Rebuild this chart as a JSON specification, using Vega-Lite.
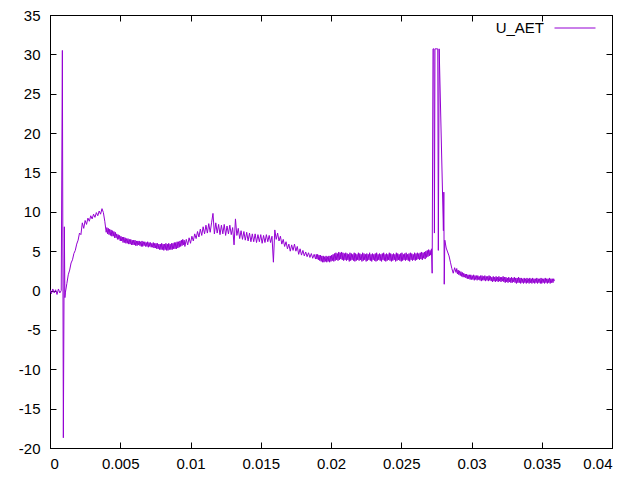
{
"$schema": "https://vega.github.io/schema/vega-lite/v6.json",
"width": 562, "height": 433,
"autosize": {"type": "none"},
"padding": {"left": 50, "top": 15, "right": 28, "bottom": 32},
"background": "white",
"config": {
  "view": {"stroke": "black", "strokeWidth": 1},
  "font": "Liberation Sans",
  "axis": {"grid": false, "domainColor": "black", "domainWidth": 1, "tickColor": "black", "tickWidth": 1, "labelColor": "black", "labelFont": "Liberation Sans", "labelFontSize": 15, "title": null},
  "legend": {"labelFont": "Liberation Sans", "labelFontSize": 15, "labelColor": "black"}
},
"data": {"values": [
{"t":0.0000,"u":0.1},{"t":0.0001,"u":-0.4},{"t":0.0002,"u":0.2},{"t":0.0003,"u":-0.3},{"t":0.0004,"u":0.1},{"t":0.0005,"u":-0.5},{"t":0.0006,"u":0.2},{"t":0.0007,"u":-0.3},{"t":0.0008,"u":0.0},
{"t":0.00088,"u":30.5},{"t":0.00095,"u":-18.7},{"t":0.00102,"u":8.1},{"t":0.00106,"u":-0.9},
{"t":0.0011,"u":-0.2},{"t":0.0012,"u":0.9},{"t":0.0013,"u":2.0},{"t":0.0014,"u":2.6},{"t":0.0015,"u":3.5},{"t":0.0016,"u":3.9},{"t":0.0017,"u":4.7},{"t":0.0018,"u":5.1},{"t":0.0019,"u":5.9},{"t":0.0020,"u":6.4},
{"t":0.0021,"u":7.3},{"t":0.0022,"u":7.1},{"t":0.0023,"u":8.6},{"t":0.0024,"u":7.9},{"t":0.0025,"u":8.9},{"t":0.0026,"u":8.4},{"t":0.0027,"u":9.2},{"t":0.0028,"u":8.8},{"t":0.0029,"u":9.5},{"t":0.0030,"u":9.1},
{"t":0.0031,"u":9.7},{"t":0.0032,"u":9.3},{"t":0.0033,"u":9.9},{"t":0.0034,"u":9.5},{"t":0.0035,"u":10.1},{"t":0.0036,"u":9.7},{"t":0.0037,"u":10.4},{"t":0.0038,"u":9.9},{"t":0.0039,"u":8.8},
{"t":0.00400,"u":7.4},{"t":0.00405,"u":8.0},{"t":0.00410,"u":7.2},{"t":0.00415,"u":7.9},{"t":0.00420,"u":7.1},{"t":0.00425,"u":7.8},{"t":0.00430,"u":7.0},{"t":0.00435,"u":7.7},{"t":0.00440,"u":6.9},{"t":0.00445,"u":7.6},
{"t":0.00450,"u":6.9},{"t":0.00455,"u":7.5},{"t":0.00460,"u":6.7},{"t":0.00465,"u":7.4},{"t":0.00470,"u":6.7},{"t":0.00475,"u":7.2},{"t":0.00480,"u":6.5},{"t":0.00485,"u":7.1},{"t":0.00490,"u":6.5},{"t":0.00495,"u":7.0},
{"t":0.00500,"u":6.3},{"t":0.00505,"u":6.9},{"t":0.00510,"u":6.3},{"t":0.00515,"u":6.8},{"t":0.00520,"u":6.1},{"t":0.00525,"u":6.8},{"t":0.00530,"u":6.1},{"t":0.00535,"u":6.7},{"t":0.00540,"u":6.0},{"t":0.00545,"u":6.6},
{"t":0.00550,"u":6.0},{"t":0.00555,"u":6.6},{"t":0.00560,"u":5.9},{"t":0.00565,"u":6.5},{"t":0.00570,"u":5.9},{"t":0.00575,"u":6.5},{"t":0.00580,"u":5.8},{"t":0.00585,"u":6.4},{"t":0.00590,"u":5.8},{"t":0.00595,"u":6.4},
{"t":0.00600,"u":5.8},{"t":0.00605,"u":6.4},{"t":0.00610,"u":5.7},{"t":0.00615,"u":6.3},{"t":0.00620,"u":5.7},{"t":0.00625,"u":6.3},{"t":0.00630,"u":5.8},{"t":0.00635,"u":6.3},{"t":0.00640,"u":5.7},{"t":0.00645,"u":6.2},
{"t":0.00650,"u":5.6},{"t":0.00655,"u":6.3},{"t":0.00660,"u":5.6},{"t":0.00665,"u":6.2},{"t":0.00670,"u":5.7},{"t":0.00675,"u":6.2},{"t":0.00680,"u":5.6},{"t":0.00685,"u":6.1},{"t":0.00690,"u":5.6},{"t":0.00695,"u":6.2},
{"t":0.00700,"u":5.5},{"t":0.00705,"u":6.1},{"t":0.00710,"u":5.6},{"t":0.00715,"u":6.1},{"t":0.00720,"u":5.5},{"t":0.00725,"u":6.0},{"t":0.00730,"u":5.5},{"t":0.00735,"u":6.1},{"t":0.00740,"u":5.4},{"t":0.00745,"u":6.0},
{"t":0.00750,"u":5.4},{"t":0.00755,"u":6.0},{"t":0.00760,"u":5.3},{"t":0.00765,"u":6.0},{"t":0.00770,"u":5.3},{"t":0.00775,"u":5.9},{"t":0.00780,"u":5.2},{"t":0.00785,"u":5.9},{"t":0.00790,"u":5.2},{"t":0.00795,"u":6.0},
{"t":0.00800,"u":5.2},{"t":0.00805,"u":5.9},{"t":0.00810,"u":5.1},{"t":0.00815,"u":5.9},{"t":0.00820,"u":5.2},{"t":0.00825,"u":6.0},{"t":0.00830,"u":5.1},{"t":0.00835,"u":5.9},{"t":0.00840,"u":5.1},{"t":0.00845,"u":6.0},
{"t":0.00850,"u":5.2},{"t":0.00855,"u":5.9},{"t":0.00860,"u":5.2},{"t":0.00865,"u":6.0},{"t":0.00870,"u":5.2},{"t":0.00875,"u":6.0},{"t":0.00880,"u":5.3},{"t":0.00885,"u":6.1},{"t":0.00890,"u":5.3},{"t":0.00895,"u":6.1},
{"t":0.00900,"u":5.3},{"t":0.00905,"u":6.2},{"t":0.00910,"u":5.4},{"t":0.00915,"u":6.2},{"t":0.00920,"u":5.5},{"t":0.00925,"u":6.3},{"t":0.00930,"u":5.6},{"t":0.00935,"u":6.4},{"t":0.00940,"u":5.7},{"t":0.00945,"u":6.5},
{"t":0.00950,"u":5.8},{"t":0.00955,"u":6.4},{"t":0.0096,"u":5.6},{"t":0.0097,"u":6.5},{"t":0.0098,"u":5.8},{"t":0.0099,"u":6.7},{"t":0.0100,"u":6.0},
{"t":0.0101,"u":6.9},{"t":0.0102,"u":6.3},{"t":0.0103,"u":7.2},{"t":0.0104,"u":6.6},{"t":0.0105,"u":7.5},{"t":0.0106,"u":6.8},{"t":0.0107,"u":7.8},{"t":0.0108,"u":7.0},{"t":0.0109,"u":8.1},{"t":0.0110,"u":7.2},
{"t":0.0111,"u":8.3},{"t":0.0112,"u":7.3},{"t":0.0113,"u":8.5},{"t":0.0114,"u":7.4},{"t":0.0115,"u":8.6},{"t":0.0116,"u":9.8},{"t":0.0117,"u":7.2},{"t":0.0118,"u":8.6},{"t":0.0119,"u":7.3},{"t":0.0120,"u":8.4},
{"t":0.0121,"u":7.1},{"t":0.0122,"u":8.3},{"t":0.0123,"u":7.2},{"t":0.0124,"u":8.4},{"t":0.0125,"u":7.0},{"t":0.0126,"u":8.2},{"t":0.0127,"u":7.2},{"t":0.0128,"u":8.3},{"t":0.0129,"u":7.1},{"t":0.0130,"u":8.0},
{"t":0.0131,"u":5.8},{"t":0.0132,"u":9.1},{"t":0.0133,"u":7.0},{"t":0.0134,"u":7.9},{"t":0.0135,"u":6.6},{"t":0.0136,"u":7.6},{"t":0.0137,"u":6.5},{"t":0.0138,"u":7.5},{"t":0.0139,"u":6.4},{"t":0.0140,"u":7.4},
{"t":0.0141,"u":6.3},{"t":0.0142,"u":7.3},{"t":0.0143,"u":6.2},{"t":0.0144,"u":7.2},{"t":0.0145,"u":6.2},{"t":0.0146,"u":7.2},{"t":0.0147,"u":6.1},{"t":0.0148,"u":7.1},{"t":0.0149,"u":6.2},{"t":0.0150,"u":7.1},
{"t":0.0151,"u":6.0},{"t":0.0152,"u":7.0},{"t":0.0153,"u":6.1},{"t":0.0154,"u":7.1},{"t":0.0155,"u":6.2},{"t":0.0156,"u":7.0},{"t":0.0157,"u":6.1},{"t":0.0158,"u":6.9},{"t":0.0159,"u":3.6},{"t":0.0160,"u":7.7},
{"t":0.0161,"u":6.5},{"t":0.0162,"u":7.3},{"t":0.0163,"u":6.3},{"t":0.0164,"u":6.9},{"t":0.0165,"u":5.9},{"t":0.0166,"u":6.5},{"t":0.0167,"u":5.6},{"t":0.0168,"u":6.2},{"t":0.0169,"u":5.3},{"t":0.0170,"u":5.9},
{"t":0.0171,"u":5.0},{"t":0.0172,"u":5.8},{"t":0.0173,"u":5.1},{"t":0.0174,"u":5.9},{"t":0.0175,"u":5.0},{"t":0.0176,"u":5.6},{"t":0.0177,"u":4.6},{"t":0.0178,"u":5.3},{"t":0.0179,"u":4.5},{"t":0.0180,"u":5.1},
{"t":0.0181,"u":4.4},{"t":0.0182,"u":4.9},{"t":0.0183,"u":4.3},{"t":0.0184,"u":4.8},{"t":0.0185,"u":4.2},{"t":0.0186,"u":4.7},{"t":0.0187,"u":4.1},{"t":0.0188,"u":4.6},{"t":0.0189,"u":4.0},{"t":0.01895,"u":4.6},
{"t":0.01900,"u":4.0},{"t":0.01905,"u":4.6},{"t":0.01910,"u":3.9},{"t":0.01915,"u":4.5},{"t":0.01920,"u":3.8},{"t":0.01925,"u":4.5},{"t":0.01930,"u":3.7},{"t":0.01935,"u":4.4},{"t":0.01940,"u":3.6},{"t":0.01945,"u":4.4},
{"t":0.01950,"u":3.6},{"t":0.01955,"u":4.3},{"t":0.01960,"u":3.7},{"t":0.01965,"u":4.4},{"t":0.01970,"u":3.6},{"t":0.01975,"u":4.3},{"t":0.01980,"u":3.7},{"t":0.01985,"u":4.4},{"t":0.01990,"u":3.6},{"t":0.01995,"u":4.4},
{"t":0.02000,"u":3.7},{"t":0.02005,"u":4.5},{"t":0.02010,"u":3.8},{"t":0.02015,"u":4.6},{"t":0.02020,"u":3.7},{"t":0.02025,"u":4.7},{"t":0.02030,"u":3.8},{"t":0.02035,"u":4.8},{"t":0.02040,"u":3.9},{"t":0.02045,"u":4.7},
{"t":0.02050,"u":3.8},{"t":0.02055,"u":4.9},{"t":0.02060,"u":3.9},{"t":0.02065,"u":4.8},{"t":0.02070,"u":4.0},{"t":0.02075,"u":4.9},{"t":0.02080,"u":3.9},{"t":0.02085,"u":4.8},{"t":0.02090,"u":3.8},{"t":0.02095,"u":4.7},
{"t":0.02100,"u":3.9},{"t":0.02105,"u":4.8},{"t":0.02110,"u":3.8},{"t":0.02115,"u":4.7},{"t":0.02120,"u":3.9},{"t":0.02125,"u":4.6},{"t":0.02130,"u":3.7},{"t":0.02135,"u":4.8},{"t":0.02140,"u":3.8},{"t":0.02145,"u":4.7},
{"t":0.02150,"u":3.9},{"t":0.02155,"u":4.6},{"t":0.02160,"u":3.8},{"t":0.02165,"u":4.8},{"t":0.02170,"u":3.7},{"t":0.02175,"u":4.7},{"t":0.02180,"u":3.8},{"t":0.02185,"u":4.6},{"t":0.02190,"u":3.9},{"t":0.02195,"u":4.8},
{"t":0.02200,"u":3.8},{"t":0.02205,"u":4.7},{"t":0.02210,"u":3.9},{"t":0.02215,"u":4.6},{"t":0.02220,"u":3.7},{"t":0.02225,"u":4.8},{"t":0.02230,"u":3.8},{"t":0.02235,"u":4.7},{"t":0.02240,"u":3.9},{"t":0.02245,"u":4.6},
{"t":0.02250,"u":3.7},{"t":0.02255,"u":4.7},{"t":0.02260,"u":3.8},{"t":0.02265,"u":4.6},{"t":0.02270,"u":3.9},{"t":0.02275,"u":4.8},{"t":0.02280,"u":3.8},{"t":0.02285,"u":4.6},{"t":0.02290,"u":3.7},{"t":0.02295,"u":4.7},
{"t":0.02300,"u":3.9},{"t":0.02305,"u":4.6},{"t":0.02310,"u":3.8},{"t":0.02315,"u":4.7},{"t":0.02320,"u":3.7},{"t":0.02325,"u":4.8},{"t":0.02330,"u":3.8},{"t":0.02335,"u":4.6},{"t":0.02340,"u":3.9},{"t":0.02345,"u":4.7},
{"t":0.02350,"u":3.8},{"t":0.02355,"u":4.6},{"t":0.02360,"u":3.7},{"t":0.02365,"u":4.7},{"t":0.02370,"u":3.9},{"t":0.02375,"u":4.8},{"t":0.02380,"u":3.8},{"t":0.02385,"u":4.6},{"t":0.02390,"u":3.7},{"t":0.02395,"u":4.7},
{"t":0.02400,"u":3.8},{"t":0.02405,"u":4.6},{"t":0.02410,"u":3.9},{"t":0.02415,"u":4.8},{"t":0.02420,"u":3.8},{"t":0.02425,"u":4.7},{"t":0.02430,"u":3.7},{"t":0.02435,"u":4.6},{"t":0.02440,"u":3.8},{"t":0.02445,"u":4.7},
{"t":0.02450,"u":3.9},{"t":0.02455,"u":4.6},{"t":0.02460,"u":3.7},{"t":0.02465,"u":4.8},{"t":0.02470,"u":3.8},{"t":0.02475,"u":4.7},{"t":0.02480,"u":3.9},{"t":0.02485,"u":4.6},{"t":0.02490,"u":3.8},{"t":0.02495,"u":4.7},
{"t":0.02500,"u":3.7},{"t":0.02505,"u":4.8},{"t":0.02510,"u":3.8},{"t":0.02515,"u":4.6},{"t":0.02520,"u":3.9},{"t":0.02525,"u":4.7},{"t":0.02530,"u":3.8},{"t":0.02535,"u":4.8},{"t":0.02540,"u":3.9},{"t":0.02545,"u":4.6},
{"t":0.02550,"u":3.8},{"t":0.02555,"u":4.7},{"t":0.02560,"u":3.7},{"t":0.02565,"u":4.8},{"t":0.02570,"u":3.9},{"t":0.02575,"u":4.7},{"t":0.02580,"u":3.8},{"t":0.02585,"u":4.6},{"t":0.02590,"u":3.9},{"t":0.02595,"u":4.8},
{"t":0.02600,"u":3.8},{"t":0.02605,"u":4.7},{"t":0.02610,"u":3.9},{"t":0.02615,"u":4.8},{"t":0.02620,"u":4.0},{"t":0.02625,"u":4.7},{"t":0.02630,"u":3.9},{"t":0.02635,"u":4.8},{"t":0.02640,"u":4.0},{"t":0.02645,"u":4.9},
{"t":0.02650,"u":3.9},{"t":0.02655,"u":4.8},{"t":0.02660,"u":4.1},{"t":0.02665,"u":4.9},{"t":0.02670,"u":4.0},{"t":0.02675,"u":5.0},{"t":0.02680,"u":4.2},{"t":0.02685,"u":5.1},{"t":0.02690,"u":4.3},{"t":0.02695,"u":5.2},
{"t":0.02700,"u":4.4},{"t":0.02705,"u":5.1},{"t":0.02710,"u":4.5},{"t":0.02715,"u":5.3},
{"t":0.0272,"u":2.2},{"t":0.02726,"u":30.7},{"t":0.02732,"u":30.7},{"t":0.02736,"u":7.3},{"t":0.0274,"u":30.7},{"t":0.0276,"u":30.7},{"t":0.02764,"u":5.1},{"t":0.0277,"u":30.7},
{"t":0.0280,"u":7.6},{"t":0.02803,"u":12.5},{"t":0.02806,"u":0.8},{"t":0.0281,"u":6.4},{"t":0.0282,"u":5.4},{"t":0.0283,"u":4.9},{"t":0.0284,"u":4.4},{"t":0.0285,"u":3.6},{"t":0.0286,"u":2.8},{"t":0.0287,"u":2.2},
{"t":0.0288,"u":2.9},{"t":0.0289,"u":2.3},{"t":0.02895,"u":2.8},
{"t":0.02900,"u":2.1},{"t":0.02905,"u":2.6},{"t":0.02910,"u":2.0},{"t":0.02915,"u":2.5},{"t":0.02920,"u":1.9},{"t":0.02925,"u":2.4},{"t":0.02930,"u":1.8},{"t":0.02935,"u":2.3},{"t":0.02940,"u":1.7},{"t":0.02945,"u":2.2},
{"t":0.02950,"u":1.7},{"t":0.02955,"u":2.1},{"t":0.02960,"u":1.6},{"t":0.02965,"u":2.1},{"t":0.02970,"u":1.5},{"t":0.02975,"u":2.0},{"t":0.02980,"u":1.5},{"t":0.02985,"u":2.0},{"t":0.02990,"u":1.4},{"t":0.02995,"u":2.0},
{"t":0.03000,"u":1.4},{"t":0.03005,"u":1.9},{"t":0.03010,"u":1.4},{"t":0.03015,"u":2.0},{"t":0.03020,"u":1.3},{"t":0.03025,"u":1.9},{"t":0.03030,"u":1.4},{"t":0.03035,"u":1.9},{"t":0.03040,"u":1.3},{"t":0.03045,"u":1.9},
{"t":0.03050,"u":1.4},{"t":0.03055,"u":1.8},{"t":0.03060,"u":1.3},{"t":0.03065,"u":1.9},{"t":0.03070,"u":1.2},{"t":0.03075,"u":1.9},{"t":0.03080,"u":1.3},{"t":0.03085,"u":1.8},{"t":0.03090,"u":1.3},{"t":0.03095,"u":1.9},
{"t":0.03100,"u":1.2},{"t":0.03105,"u":1.8},{"t":0.03110,"u":1.3},{"t":0.03115,"u":1.8},{"t":0.03120,"u":1.2},{"t":0.03125,"u":1.9},{"t":0.03130,"u":1.3},{"t":0.03135,"u":1.8},{"t":0.03140,"u":1.2},{"t":0.03145,"u":1.7},
{"t":0.03150,"u":1.1},{"t":0.03155,"u":1.8},{"t":0.03160,"u":1.2},{"t":0.03165,"u":1.7},{"t":0.03170,"u":1.1},{"t":0.03175,"u":1.8},{"t":0.03180,"u":1.2},{"t":0.03185,"u":1.7},{"t":0.03190,"u":1.1},{"t":0.03195,"u":1.8},
{"t":0.03200,"u":1.2},{"t":0.03205,"u":1.7},{"t":0.03210,"u":1.1},{"t":0.03215,"u":1.7},{"t":0.03220,"u":1.2},{"t":0.03225,"u":1.8},{"t":0.03230,"u":1.1},{"t":0.03235,"u":1.7},{"t":0.03240,"u":1.0},{"t":0.03245,"u":1.7},
{"t":0.03250,"u":1.1},{"t":0.03255,"u":1.6},{"t":0.03260,"u":1.0},{"t":0.03265,"u":1.7},{"t":0.03270,"u":1.1},{"t":0.03275,"u":1.6},{"t":0.03280,"u":1.0},{"t":0.03285,"u":1.7},{"t":0.03290,"u":1.0},{"t":0.03295,"u":1.6},
{"t":0.03300,"u":1.1},{"t":0.03305,"u":1.7},{"t":0.03310,"u":1.0},{"t":0.03315,"u":1.6},{"t":0.03320,"u":0.9},{"t":0.03325,"u":1.6},{"t":0.03330,"u":1.0},{"t":0.03335,"u":1.7},{"t":0.03340,"u":1.0},{"t":0.03345,"u":1.6},
{"t":0.03350,"u":0.9},{"t":0.03355,"u":1.6},{"t":0.03360,"u":1.0},{"t":0.03365,"u":1.5},{"t":0.03370,"u":0.9},{"t":0.03375,"u":1.6},{"t":0.03380,"u":1.0},{"t":0.03385,"u":1.5},{"t":0.03390,"u":0.9},{"t":0.03395,"u":1.6},
{"t":0.03400,"u":1.0},{"t":0.03405,"u":1.5},{"t":0.03410,"u":0.9},{"t":0.03415,"u":1.6},{"t":0.03420,"u":1.0},{"t":0.03425,"u":1.5},{"t":0.03430,"u":0.9},{"t":0.03435,"u":1.6},{"t":0.03440,"u":1.0},{"t":0.03445,"u":1.5},
{"t":0.03450,"u":0.9},{"t":0.03455,"u":1.5},{"t":0.03460,"u":1.0},{"t":0.03465,"u":1.6},{"t":0.03470,"u":0.9},{"t":0.03475,"u":1.5},{"t":0.03480,"u":1.0},{"t":0.03485,"u":1.5},{"t":0.03490,"u":0.9},{"t":0.03495,"u":1.6},
{"t":0.03500,"u":0.9},{"t":0.03505,"u":1.5},{"t":0.03510,"u":1.0},{"t":0.03515,"u":1.5},{"t":0.03520,"u":0.9},{"t":0.03525,"u":1.6},{"t":0.03530,"u":1.0},{"t":0.03535,"u":1.5},{"t":0.03540,"u":0.9},{"t":0.03545,"u":1.5},
{"t":0.03550,"u":1.0},{"t":0.03555,"u":1.6},{"t":0.03560,"u":0.9},{"t":0.03565,"u":1.5},{"t":0.03570,"u":1.0},{"t":0.03575,"u":1.5},{"t":0.03580,"u":1.0},{"t":0.03585,"u":1.5},{"t":0.03590,"u":1.2}
]},
"layer": [
  {
    "mark": {"type": "line", "strokeWidth": 1, "clip": true},
    "encoding": {
      "x": {"field": "t", "type": "quantitative", "scale": {"domain": [0, 0.04], "nice": false, "zero": false},
            "axis": {"orient": "bottom", "values": [0,0.005,0.01,0.015,0.02,0.025,0.03,0.035,0.04], "format": "~g", "tickSize": -6, "labelPadding": 14}},
      "y": {"field": "u", "type": "quantitative", "scale": {"domain": [-20, 35], "nice": false, "zero": false},
            "axis": {"orient": "left", "values": [-20,-15,-10,-5,0,5,10,15,20,25,30,35], "labelExpr": "'' + datum.value", "tickSize": -6, "labelPadding": 16}},
      "color": {"datum": "U_AET", "type": "nominal", "scale": {"range": ["#9400d3"]},
                "legend": {"title": null, "orient": "none", "legendX": 504, "legendY": -8, "padding": 0, "symbolType": "stroke", "symbolSize": 1681, "symbolStrokeWidth": 1, "labelAlign": "right", "labelOffset": -52}}
    }
  },
  {
    "mark": {"type": "line", "strokeOpacity": 0},
    "encoding": {
      "x": {"field": "t", "type": "quantitative", "axis": {"orient": "top", "values": [0,0.005,0.01,0.015,0.02,0.025,0.03,0.035,0.04], "labels": false, "tickSize": -6}},
      "y": {"field": "u", "type": "quantitative", "axis": {"orient": "right", "values": [-20,-15,-10,-5,0,5,10,15,20,25,30,35], "labels": false, "tickSize": -6}}
    }
  }
],
"resolve": {"axis": {"x": "independent", "y": "independent"}}
}
